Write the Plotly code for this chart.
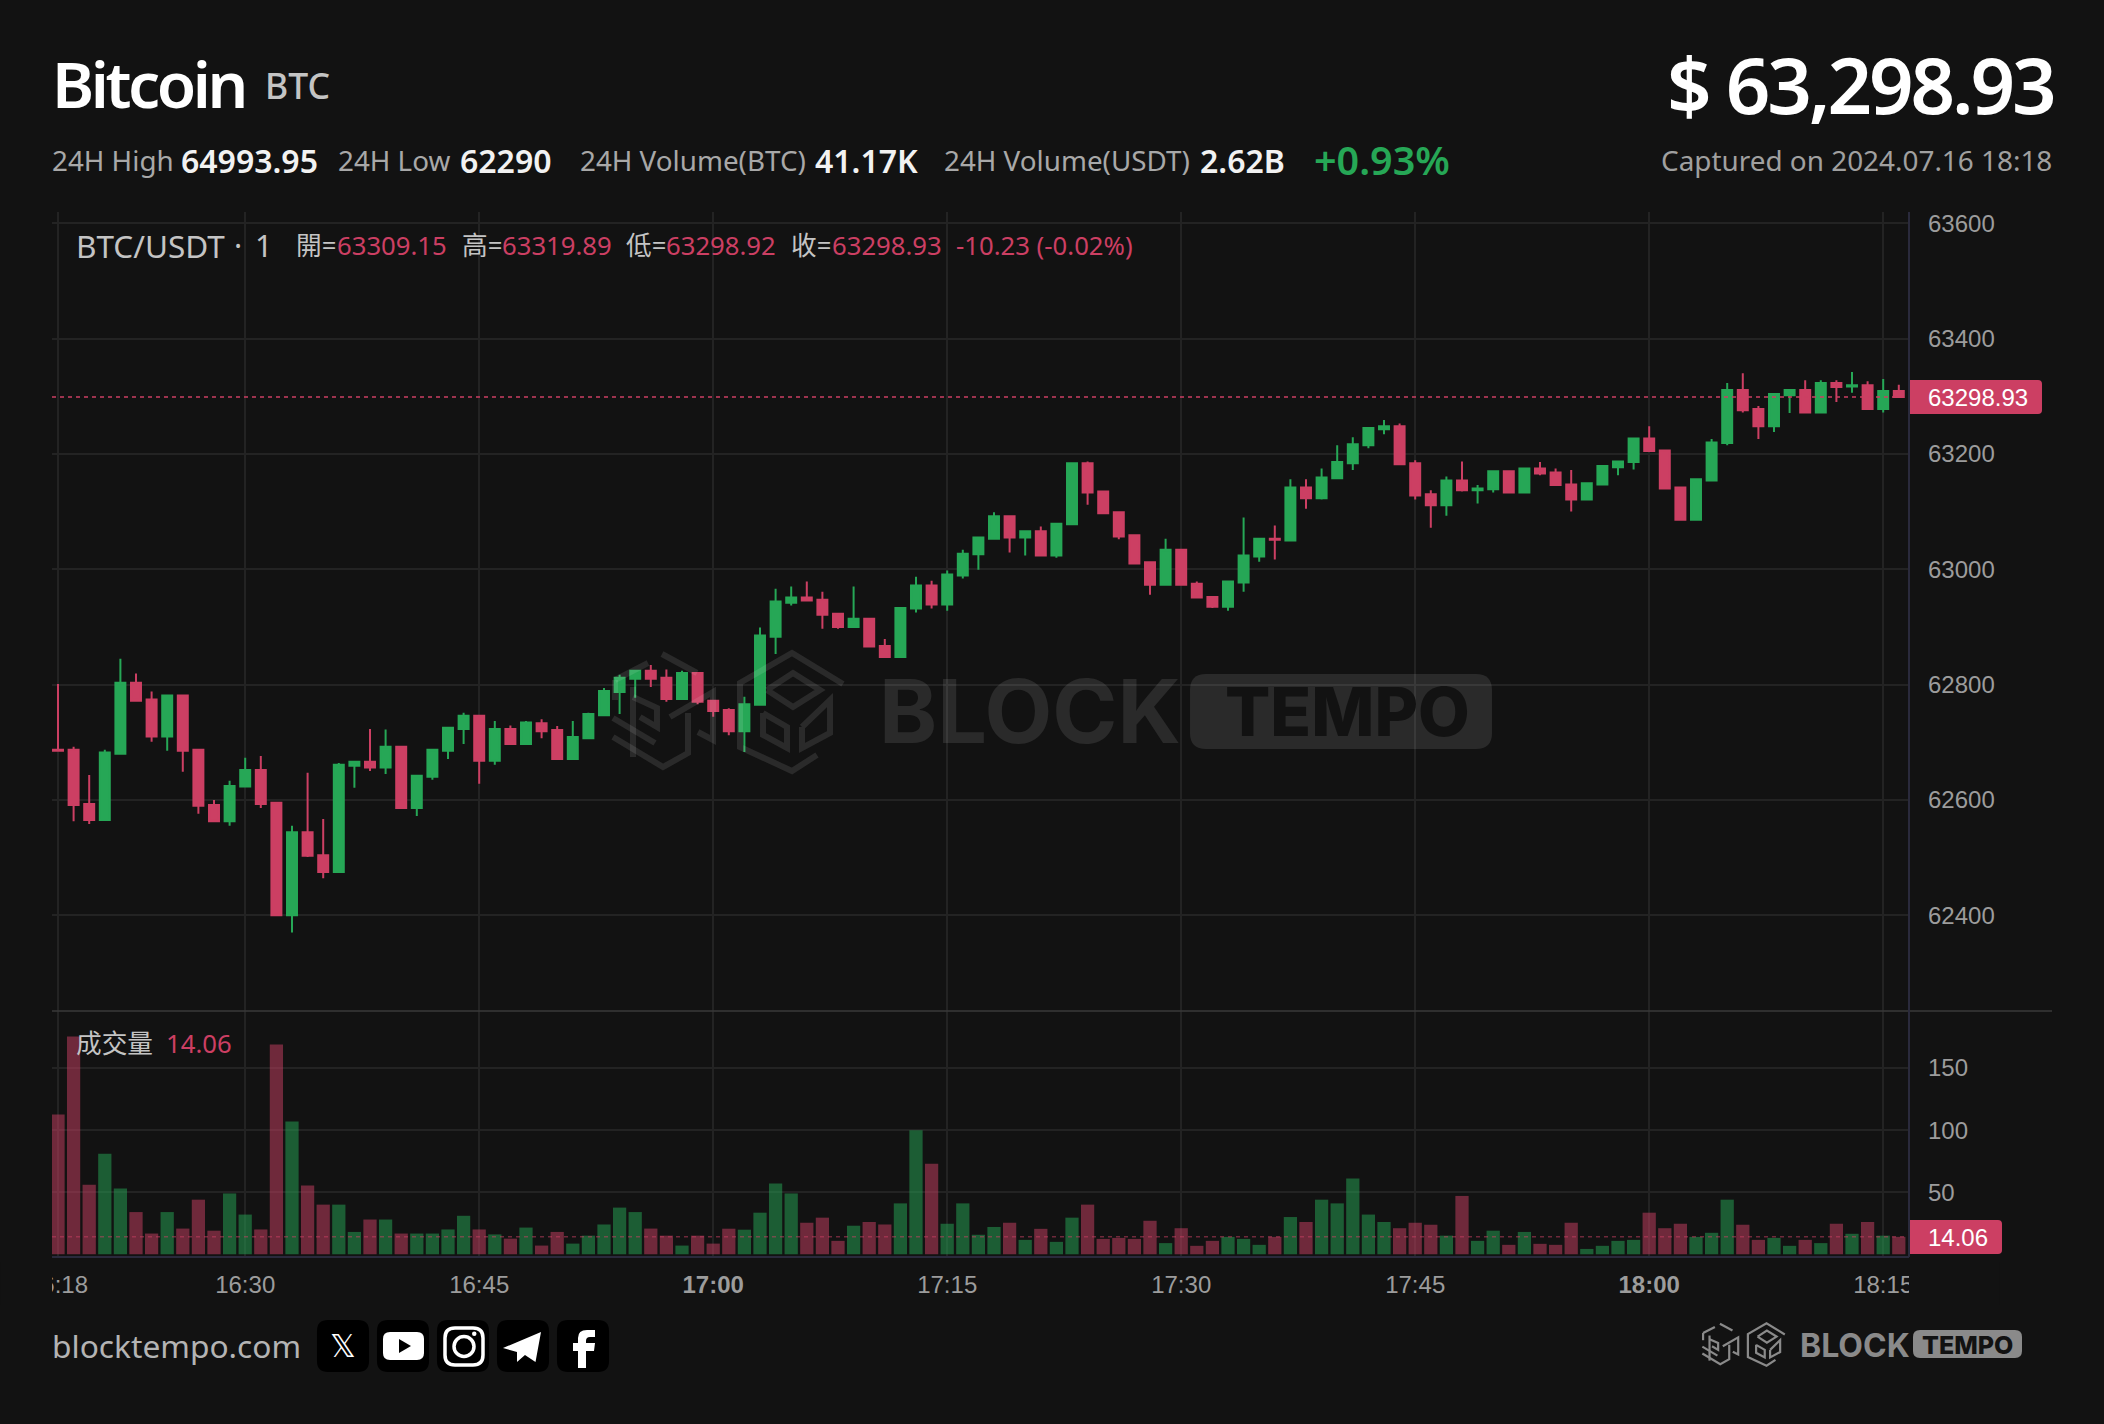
import pandas as pd
import plotly.graph_objects as go

# ---------- data ----------
start_time = "2024-07-16 16:18"
opens = [62687,62687,62593,62565,62680,62803,62774,62710,62781,62687,
62591,62563,62623,62652,62595,62400,62544,62504,62475,62659,
62666,62656,62692,62586,62640,62685,62723,62746,62668,62723,
62697,62733,62721,62671,62707,62747,62787,62810,62824,62812,
62775,62820,62772,62756,62719,62765,62883,62942,62951,62947,
62923,62900,62914,62867,62848,62932,62972,62939,62989,63026,
63053,63092,63055,63066,63024,63078,63184,63135,63099,63059,
63012,62973,63034,62975,62952,62935,62977,63022,63053,63050,
63142,63123,63158,63184,63215,63243,63248,63184,63130,63111,
63154,63137,63139,63170,63133,63175,63168,63147,63121,63147,
63177,63186,63227,63206,63142,63086,63154,63219,63311,63278,
63248,63302,63311,63272,63323,63317,63319,63278,63309.15]
closes = [62685,62591,62565,62682,62803,62772,62710,62781,62685,62590,
62563,62624,62652,62593,62400,62544,62503,62475,62661,62666,
62656,62692,62586,62642,62687,62725,62746,62668,62723,62697,
62734,62719,62671,62709,62749,62789,62812,62824,62810,62775,
62820,62770,62754,62719,62766,62885,62944,62951,62946,62921,
62900,62914,62866,62848,62933,62972,62939,62991,63027,63055,
63092,63055,63066,63024,63079,63184,63133,63097,63057,63010,
62973,63034,62973,62951,62935,62979,63024,63053,63051,63142,
63123,63159,63186,63217,63245,63248,63182,63128,63111,63154,
63137,63140,63170,63133,63175,63166,63146,63121,63149,63179,
63187,63227,63205,63140,63086,63156,63220,63311,63276,63248,
63304,63311,63272,63323,63316,63319,63278,63309,63298.93]
highs = [62801,62692,62643,62687,62845,62819,62788,62781,62781,62687,
62600,62633,62673,62676,62595,62555,62647,62567,62664,62668,
62723,62722,62692,62642,62687,62725,62751,62746,62737,62729,
62737,62740,62728,62737,62751,62794,62817,62824,62834,62826,
62824,62820,62772,62759,62779,62899,62966,62970,62979,62961,
62923,62970,62914,62879,62933,62987,62980,62998,63034,63055,
63099,63093,63066,63074,63079,63184,63187,63135,63099,63059,
63012,63053,63034,62979,62952,62980,63090,63053,63076,63156,
63156,63175,63215,63229,63246,63259,63253,63189,63137,63161,
63187,63146,63170,63170,63175,63186,63175,63172,63149,63179,
63187,63227,63248,63206,63142,63156,63226,63323,63340,63283,
63304,63311,63328,63328,63328,63342,63326,63330,63319.89]
lows = [62685,62563,62558,62565,62680,62770,62701,62685,62649,62576,
62563,62555,62623,62586,62400,62370,62501,62464,62475,62621,
62650,62645,62586,62572,62635,62671,62697,62628,62661,62697,
62697,62707,62671,62671,62707,62747,62749,62777,62796,62770,
62775,62766,62744,62712,62683,62765,62853,62937,62946,62897,
62897,62899,62866,62846,62848,62925,62932,62928,62984,62999,
63052,63029,63024,63024,63020,63078,63112,63097,63052,63010,
62956,62973,62973,62951,62933,62928,62961,63013,63017,63050,
63105,63121,63158,63172,63210,63234,63182,63121,63072,63093,
63135,63114,63133,63133,63133,63163,63146,63100,63121,63147,
63163,63173,63205,63140,63086,63086,63154,63215,63272,63226,
63238,63271,63272,63272,63290,63306,63278,63272,63298.92]
volumes = [112.6,175.5,56,81,53,34,16.7,34,20.7,44,
19,49,32,20,169,107,55.4,40,40,18,
28,28,16.7,16.7,16.7,20,31,20,16,12.6,
21.5,7,18,8.6,15,24,37.6,34,20.7,15,
7,15,8.6,20.6,19.8,33.5,57,49,25.4,29.5,
10.8,23,26,24,41,100,73,24.6,41,15.7,
22,25.4,11.6,20.5,10,29.5,40,12.4,13.2,12.4,
27,9,21,6.8,10.8,14,12.4,7.6,14,30,
26,44,41,61,32,26,21,25.4,23.8,15,
47,10.8,19,7.6,18,8.4,7.6,25.4,4.3,6.8,
10.8,11.6,33.5,21,24.6,14,17.3,44,23.8,11.6,
13.2,6.8,11.6,9,24.6,16.5,26,15,14.06]
price_ticks = [62400,62600,62800,63000,63200,63400,63600]
volume_ticks = [50,100,150]
time_ticks = ["16:18","16:30","16:45","17:00","17:15","17:30","17:45","18:00","18:15"]
time_labels = ["16:18","16:30","16:45","<b>17:00</b>","17:15","17:30","17:45","<b>18:00</b>","18:15"]
last_price = 63298.93
last_volume = 14.06

# ---------- styles ----------
BG = "#121212"
GREEN = "#26a756"
RED = "#cc3f63"
GRID = "#232323"
AXIS = "#2a2a3c"
SANS = "Noto Sans, Noto Sans CJK TC, sans-serif"
AXF = "Liberation Sans, Arial, sans-serif"
L, R, T, B = 52, 1909, 212, 1257
W, H = 2104, 1424
def px(x): return (x - L) / (R - L)
def py(y): return 1 - (y - T) / (B - T)

times = pd.date_range(start_time, periods=len(opens), freq="min")
tick_dates = [f"2024-07-16 {t}" for t in time_ticks]
vol_colors = ["rgba(38,167,86,0.5)" if c >= o else "rgba(204,63,99,0.5)" for o, c in zip(opens, closes)]

fig = go.Figure()
fig.add_trace(go.Candlestick(x=times, open=opens, high=highs, low=lows, close=closes,
    xaxis="x", yaxis="y", whiskerwidth=0, hoverinfo="skip",
    increasing=dict(line=dict(color=GREEN, width=2), fillcolor=GREEN),
    decreasing=dict(line=dict(color=RED, width=2), fillcolor=RED)))
fig.add_trace(go.Bar(x=times, y=volumes, xaxis="x", yaxis="y2", marker=dict(color=vol_colors, line=dict(width=0)),
    hoverinfo="skip"))

# ---------- helper shapes/annotations ----------
shapes, notes = [], []
def text(x, y, s, size, color, anchor="left", weight=400, family=SANS):
    notes.append(dict(x=px(x), y=py(y), xref="paper", yref="paper", text=s, showarrow=False,
        xanchor=anchor, yanchor="middle", borderpad=0, borderwidth=0,
        font=dict(size=size, color=color, family=family, weight=weight)))
def path(cmds, fill=None, line=None, lw=0, close=False):
    out = []
    for c in cmds:
        op, vals = c[0], c[1:]
        coords = []
        for i in range(0, len(vals), 2):
            coords.append(f"{px(vals[i]):.5f},{py(vals[i+1]):.5f}")
        out.append(op + " ".join(coords))
    d = " ".join(out) + (" Z" if close else "")
    shapes.append(dict(type="path", path=d, xref="paper", yref="paper", layer="above",
        fillcolor=fill if fill else "rgba(0,0,0,0)",
        line=dict(color=line if line else "rgba(0,0,0,0)", width=lw)))
def rrect(x0, y0, x1, y1, r, fill=None, line=None, lw=0, left=True):
    rl = r if left else 0
    path([("M", x0+rl, y0), ("L", x1-r, y0), ("Q", x1, y0, x1, y0+r), ("L", x1, y1-r), ("Q", x1, y1, x1-r, y1),
          ("L", x0+rl, y1), ("Q", x0, y1, x0, y1-rl), ("L", x0, y0+rl), ("Q", x0, y0, x0+rl, y0)],
         fill=fill, line=line, lw=lw, close=True)
def poly(pts, **kw):
    path([("M",)+pts[0]] + [("L",)+p for p in pts[1:]], **kw)

# mark outlines, expressed in watermark-sized pixels
LOGO = [
 [(662,654),(697,673)], [(615,680),(648,663)], [(615,680),(615,700)],
 [(633,687),(633,757)], [(613,718),(655,743)], [(613,737),(663,767),(688,753),(688,713)],
 [(633,697),(657,708),(657,727),(640,717)], [(670,717),(713,692),(713,740),(698,732)],
 [(843,684),(792,653),(740,683),(740,747),(792,771),(817,755)],
 [(767,690),(793,673),(820,690),(793,707),(767,690)],
 [(763,713),(787,727),(787,748),(763,735),(763,713)],
 [(802,727),(830,700),(830,733),(802,748),(802,727)],
]
def logo(ox, oy, s, color, lw):
    for seg in LOGO:
        poly([(ox + (a-612)*s, oy + (b-652)*s) for a, b in seg], line=color, lw=lw)

# watermark
WM = "rgba(255,255,255,0.10)"
logo(612, 652, 1.0, WM, 6)
rrect(1190, 674, 1492, 749, 16, fill=WM)
text(1030, 711, "BLOCK", 88, WM, "center", 700, "Inter, sans-serif")
text(1347, 711, "TEMPO", 67, BG, "center", 800, "Inter, sans-serif")

# last-value lines and tags
shapes.append(dict(type="line", xref="paper", yref="y", x0=0, x1=1, y0=last_price, y1=last_price, layer="above",
    line=dict(color=RED, width=1.5, dash="4px,4px")))
shapes.append(dict(type="line", xref="paper", yref="y2", x0=0, x1=1, y0=last_volume, y1=last_volume, layer="above",
    line=dict(color="rgba(204,63,99,0.5)", width=1.5, dash="4px,4px")))
rrect(1908, 380, 2042, 414, 4, fill=RED, left=False)
rrect(1908, 1220, 2002, 1254, 4, fill=RED, left=False)
text(1928, 397, f"{last_price:.2f}", 24, "#ffffff", family=AXF)
text(1928, 1237, f"{last_volume:.2f}", 24, "#ffffff", family=AXF)

# pane separator, right/bottom borders
shapes.append(dict(type="line", xref="paper", yref="paper", x0=0, x1=px(2052), y0=py(1011), y1=py(1011), layer="above",
    line=dict(color="#3a3a3a", width=1.5)))
shapes.append(dict(type="line", xref="paper", yref="paper", x0=1, x1=1, y0=0, y1=1, layer="above",
    line=dict(color=AXIS, width=2)))
shapes.append(dict(type="line", xref="paper", yref="paper", x0=0, x1=1, y0=0, y1=0, layer="above",
    line=dict(color=AXIS, width=2)))

# clip clipped tick labels at plot edges
rrect(0, 1262, 52, 1305, 0, fill=BG)
rrect(1909, 1262, 2000, 1305, 0, fill=BG)

# header
text(148, 84, "Bitcoin", 64, "#ffffff", "center", 600)
text(265, 85, "BTC", 35.5, "#c4c4c4", weight=500)
text(1860, 84, "$ 63,298.93", 78, "#ffffff", "center", 600)
C1, C2 = "#a8a8a8", "#f2f2f2"
y0 = 160
for x, s, sz, c, w in [
    (52, "24H High", 27.8, C1, 400), (181, "64993.95", 32, C2, 600),
    (338, "24H Low", 27.8, C1, 400), (460, "62290", 32, C2, 600),
    (580, "24H Volume(BTC)", 27.8, C1, 400), (815, "41.17K", 32, C2, 600),
    (944, "24H Volume(USDT)", 27.8, C1, 400), (1200, "2.62B", 32, C2, 600),
    (1314, "+0.93%", 39.5, GREEN, 600)]:
    text(x, y0, s, sz, c, weight=w)
text(2052, y0, "Captured on 2024.07.16 18:18", 27.9, "#a0a0a0", "right")

# OHLC legend
C3 = "#c4c4c4"
text(76, 245, "BTC/USDT", 31.5, C3)
text(238, 245, "·", 30.5, C3, "center")
text(255, 245, "1", 30.5, C3)
for x, s, c in [(296, "開=", C3), (337, "63309.15", RED), (462, "高=", C3), (502, "63319.89", RED),
                (626, "低=", C3), (666, "63298.92", RED), (791, "收=", C3), (832, "63298.93", RED),
                (956, "-10.23 (-0.02%)", RED)]:
    text(x, 245, s, 25.7, c)
text(76, 1043, "成交量", 25.7, C3)
text(166, 1043, "14.06", 25.7, RED)

# footer
text(52, 1345, "blocktempo.com", 31.7, "#b4b4b4")
for x in [317, 377, 437, 497, 557]:
    rrect(x, 1320, x+52, 1372, 11, fill="#000000")
text(343, 1346, "𝕏", 32, "#ffffff", "center", family="DejaVu Sans")
rrect(383, 1332, 424, 1360, 7, fill="#ffffff")
poly([(399,1339),(411,1346),(399,1353)], fill="#000000", close=True)
rrect(445, 1328, 483, 1365, 10, line="#ffffff", lw=3.5)
shapes.append(dict(type="circle", xref="paper", yref="paper", x0=px(454), x1=px(474), y0=py(1356.5), y1=py(1336.5),
    layer="above", line=dict(color="#ffffff", width=3.5), fillcolor="rgba(0,0,0,0)"))
shapes.append(dict(type="circle", xref="paper", yref="paper", x0=px(472), x1=px(476.5), y0=py(1336), y1=py(1331.5),
    layer="above", line=dict(width=0), fillcolor="#ffffff"))
poly([(503,1348),(541,1332),(535.5,1362),(525,1355),(517,1362),(517,1352)], fill="#ffffff", close=True)
path([("M",586,1368),("L",578,1368),("L",578,1351),("L",573,1351),("L",573,1343),("L",578,1343),("L",578,1338),
      ("Q",578,1330,587,1330),("L",595,1330),("L",595,1337),("L",590,1337),("Q",586,1337,586,1341),("L",586,1343),
      ("L",595,1343),("L",594,1351),("L",586,1351)], fill="#ffffff", close=True)
FL = "#8a8a8a"
logo(1702, 1323, 1/2.79, FL, 2.2)
text(1855, 1345, "BLOCK", 32, FL, "center", 700, "Inter, sans-serif")
rrect(1913, 1330, 2022, 1358, 7, fill=FL)
text(1967, 1345, "TEMPO", 25, BG, "center", 800, "Inter, sans-serif")

axis_font = dict(size=24, color="#9c9c9c", family=AXF)
x_start = times[0] + pd.Timedelta(minutes=-(58 - L) / 15.6)
x_end = times[0] + pd.Timedelta(minutes=(R - 58) / 15.6)
fig.update_layout(
    width=W, height=H, autosize=False, showlegend=False, dragmode=False,
    paper_bgcolor=BG, plot_bgcolor=BG, margin=dict(l=L, r=W-R, t=T, b=H-B, autoexpand=False),
    boxgap=0.36, boxgroupgap=0, bargap=0.15, shapes=shapes, annotations=notes,
    xaxis=dict(type="date", domain=[0, 1], anchor="y2", range=[x_start, x_end], rangeslider=dict(visible=False),
        tickmode="array", tickvals=tick_dates, ticktext=time_labels, tickfont=axis_font, ticks="",
        showgrid=True, gridcolor=GRID, gridwidth=2, showline=False, zeroline=False, ticklabelstandoff=11),
    yaxis=dict(domain=[py(1011), 1], anchor="x", side="right", range=[62233.8, 63619.7], tickmode="array",
        tickvals=price_ticks, tickfont=axis_font, ticks="", showgrid=True, gridcolor=GRID, gridwidth=2,
        zeroline=False, showline=False, ticklabelstandoff=18, tickformat="d"),
    yaxis2=dict(domain=[0, py(1011)], anchor="x", side="right", range=[-2.2, 196], tickmode="array",
        tickvals=volume_ticks, tickfont=axis_font, ticks="", showgrid=True, gridcolor=GRID, gridwidth=2,
        zeroline=False, showline=False, ticklabelstandoff=18),
)
tighten = """
document.body.style.margin='0';document.body.style.background='#121212';
document.querySelectorAll('.annotation-text').forEach(function(t){
  if(t.textContent==='Bitcoin'){t.style.letterSpacing='-3.4px';}
  if(t.textContent==='$ 63,298.93'){t.style.letterSpacing='-3.1px';}
});
"""
fig.write_html("out.html", config=dict(displayModeBar=False), post_script=tighten)
